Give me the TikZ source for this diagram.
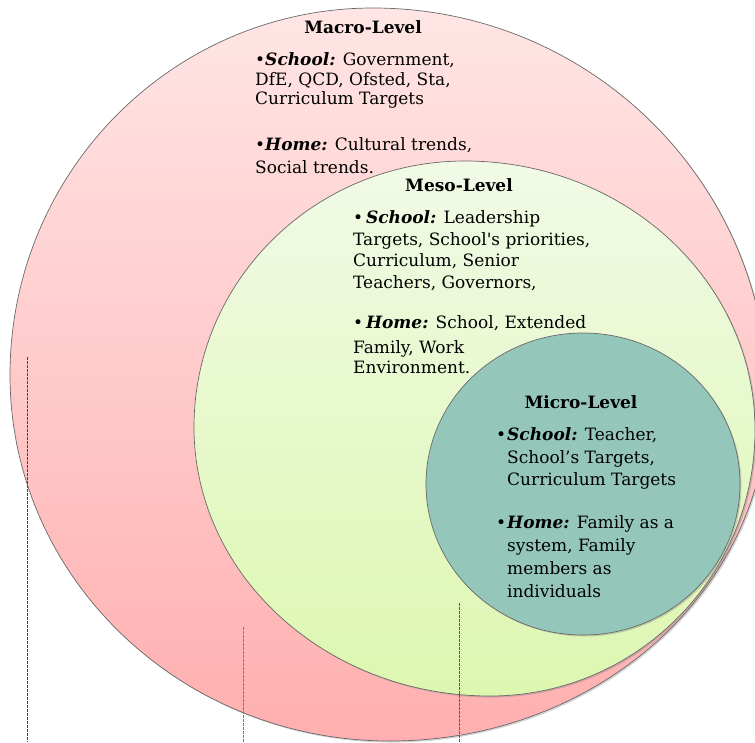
\documentclass[tikz,border=0pt]{standalone}
\usepackage{fontspec}
\setmainfont{DejaVu Serif}
\usetikzlibrary{shapes.geometric,shadows}
\definecolor{macrotop}{RGB}{255,229,229}
\definecolor{macrobot}{RGB}{255,175,175}
\definecolor{mesotop}{RGB}{241,250,230}
\definecolor{mesobot}{RGB}{221,247,176}
\definecolor{microfill}{RGB}{148,198,186}
\definecolor{rimgray}{RGB}{105,105,105}
\definecolor{dashred}{RGB}{140,40,40}
\definecolor{dasholive}{RGB}{120,130,80}
\definecolor{dashblue}{RGB}{45,100,135}
\begin{document}
\begin{tikzpicture}[x=1pt, y=-1pt,
    level/.style={draw=rimgray, line width=0.7pt, inner sep=0pt,
      drop shadow={opacity=0.35, shadow xshift=1.5pt, shadow yshift=-1.5pt}},
    title/.style={anchor=base, inner sep=0pt, font=\fontsize{17}{20}\selectfont\bfseries},
    body/.style={align=left, anchor=north west, inner sep=0pt, font=\fontsize{17}{#1}\selectfont}]
    \useasboundingbox (0,0) rectangle (755,742);
    \clip (0,0) rectangle (755,742);
      % macro level (four quarter arcs)
      \path[level, top color=macrotop, bottom color=macrobot] (10,375)
        arc[start angle=180, end angle=270, x radius=363, y radius=367]
        arc[start angle=270, end angle=360, x radius=395, y radius=392]
        arc[start angle=0, end angle=90, x radius=378, y radius=341]
        arc[start angle=90, end angle=180, x radius=380, y radius=366] -- cycle;
      % meso level
      \path[level, top color=mesotop, bottom color=mesobot] (194,427)
        arc[start angle=180, end angle=270, x radius=271, y radius=266]
        arc[start angle=270, end angle=360, x radius=290, y radius=269]
        arc[start angle=0, end angle=90, x radius=265, y radius=266]
        arc[start angle=90, end angle=180, x radius=296, y radius=269] -- cycle;
      % micro level
      \node[level, ellipse, fill=microfill, minimum width=314pt, minimum height=302pt] (micro) at (583,484) {};
      % macro text
      \node[title] (macrotitle) at (363,33) {Macro-Level};
      \node[body=19.5] (macroschool) at (255,52.5) {•\textbf{\textit{School:}} Government,\\DfE, QCD, Ofsted, Sta,\\Curriculum Targets};
      \node[body=20] (macrohome) at (255,137.5) {•\textbf{\textit{Home:}} Cultural trends,\\[3pt]Social trends.};
      % meso text
      \node[title] (mesotitle) at (459,191) {Meso-Level};
      \node[body=21.5] (mesoschool) at (353,210.5) {•\,\textbf{\textit{School:}} Leadership\\Targets, School\textquotesingle s priorities,\\Curriculum, Senior\\Teachers, Governors,};
      \node[body=20.5] (mesohome) at (353,315.5) {•\,\textbf{\textit{Home:}} School, Extended\\[4pt]Family, Work\\Environment.};
      % micro text
      \node[title] (microtitle) at (581,408) {Micro-Level};
      \node[body=22.5] (microschool) at (507,427.5) {\llap{•\hspace{1pt}}\textbf{\textit{School:}} Teacher,\\School’s Targets,\\Curriculum Targets};
      \node[body=23] (microhome) at (507,515.5) {\llap{•\hspace{1pt}}\textbf{\textit{Home:}} Family as a\\system, Family\\members as\\individuals};
      % dotted guides
      \foreach \xx/\ya/\cc [count=\n] in {27/357/dashred, 243/627/dasholive, 459/603/dashblue} {
        \coordinate (dash\n top) at (\xx,\ya);
        \coordinate (dash\n bot) at (\xx,742);
        \draw[color=\cc, line width=1pt, dash pattern=on 2.5pt off 1.5pt] (dash\n top) -- (dash\n bot);
      }
    \end{tikzpicture}
\end{document}
